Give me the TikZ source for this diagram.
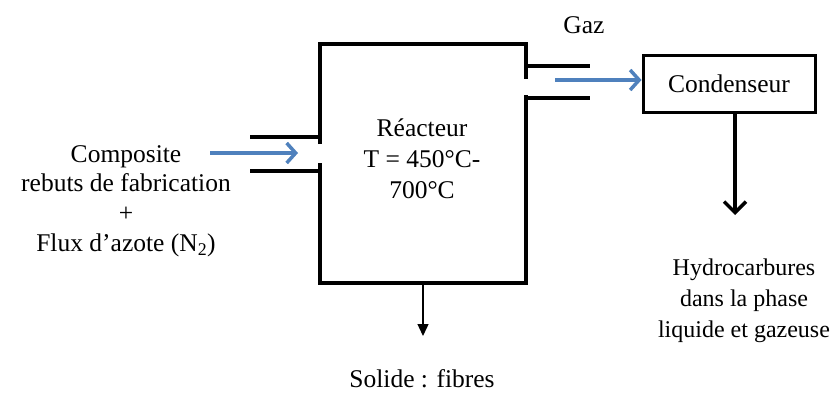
\documentclass[tikz,border=0pt]{standalone}
\usepackage{fontspec}
\setmainfont{Liberation Serif}
\usetikzlibrary{arrows.meta}
\definecolor{flowblue}{RGB}{79,129,189}
\begin{document}
\begin{tikzpicture}[x=1pt,y=-1pt,
  wall/.style={line width=4pt,line join=miter},
  bluearrow/.style={draw=flowblue,line width=4pt,-{Straight Barb[length=9pt,width=20pt,line width=3.5pt]}},
  txt/.style={font=\fontsize{25.5}{31}\selectfont,align=center,inner sep=0pt},
  box/.style={draw,line width=3pt,minimum width=172pt,minimum height=57pt,inner sep=0pt,font=\fontsize{25.5}{30}\selectfont}]
\useasboundingbox (0,0) rectangle (834,392);
% reactor
\coordinate (r1) at (320,144); \coordinate (r2) at (320,44);
\coordinate (r3) at (526,44); \coordinate (r4) at (526,79);
\coordinate (r5) at (526,95); \coordinate (r6) at (526,283);
\coordinate (r7) at (320,283); \coordinate (r8) at (320,163);
\draw[wall] (r1) -- (r2) -- (r3) -- (r4);
\draw[wall] (r5) -- (r6) -- (r7) -- (r8);
% pipes
\coordinate (pi1a) at (250,137); \coordinate (pi1b) at (322,137);
\coordinate (pi2a) at (250,171); \coordinate (pi2b) at (322,171);
\coordinate (po1a) at (524,66); \coordinate (po1b) at (590,66);
\coordinate (po2a) at (524,98); \coordinate (po2b) at (590,98);
\draw[wall] (pi1a) -- (pi1b);
\draw[wall] (pi2a) -- (pi2b);
\draw[wall] (po1a) -- (po1b);
\draw[wall] (po2a) -- (po2b);
% texts
\node[txt] (reac) at (422,159) {Réacteur\\T = 450°C-\\700°C};
\node[txt,font=\fontsize{25.5}{29.7}\selectfont] (feed) at (126,201) {Composite\\rebuts de fabrication\\+\\Flux d’azote (N\textsubscript{2})};
\node[txt] (gaz) at (584,25) {Gaz};
\node[box] (cond) at (729,83.5) {Condenseur};
\node[txt,font=\fontsize{24}{31}\selectfont] (hc) at (744,301) {Hydrocarbures\\dans la phase\\liquide et gazeuse};
\node[txt] (sol) at (422,379) {Solide : fibres};
% arrows
\coordinate (in1) at (210,153); \coordinate (in2) at (298,153);
\coordinate (out1) at (555,80);
\draw[bluearrow] (in1) -- (in2);
\draw[bluearrow] (out1) -- (out1 -| cond.west);
\coordinate (hcend) at (735,215);
\draw[line width=3.5pt,-{Straight Barb[length=11pt,width=22pt,line width=3.5pt]}] (cond.south -| hcend) -- (hcend);
\coordinate (sbot) at (423,283); \coordinate (send) at (423,336);
\draw[line width=1.3pt,-{Triangle[length=12pt,width=11pt]}] (sbot) -- (send);
\end{tikzpicture}
\end{document}
